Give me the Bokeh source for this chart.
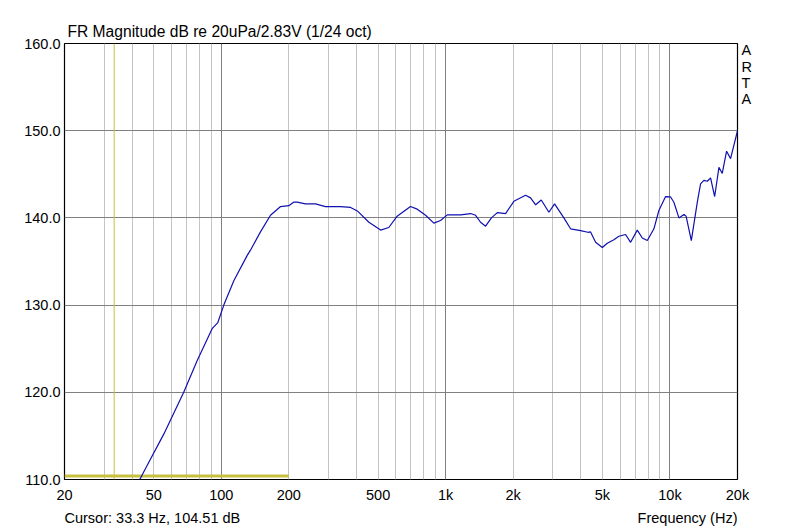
from bokeh.plotting import figure
from bokeh.models import Range1d, FixedTicker, Grid, Span, PrintfTickFormatter, LinearAxis
from bokeh.layouts import column
from bokeh.core.properties import value
from bokeh.embed import file_html
from bokeh.resources import INLINE

# ---- data ----
freq_hz = [40.0, 43.3, 46.7, 55.4, 68.0, 78.1, 91.0, 96.5, 102.6, 113.7, 130.5, 134.9,
           149.5, 165.7, 183.7, 200.0, 210.0, 218.0, 237.0, 263.0, 291.0, 340.0, 377.0,
           404.0, 455.0, 513.0, 558.0, 608.0, 697.0, 747.0, 814.0, 886.0, 949.0, 1017.0,
           1166.0, 1292.0, 1360.0, 1431.0, 1507.0, 1600.0, 1700.0, 1850.0, 2014.0, 2272.0,
           2391.0, 2519.0, 2669.0, 2885.0, 3059.0, 3366.0, 3605.0, 3996.0, 4307.0, 4420.0,
           4662.0, 4993.0, 5255.0, 5623.0, 5918.0, 6340.0, 6676.0, 7151.0, 7528.0, 7925.0,
           8480.0, 8925.0, 9561.0, 10066.0, 10410.0, 10964.0, 11540.0, 11800.0, 12450.0,
           13240.0, 13690.0, 14160.0, 14670.0, 15170.0, 15820.0, 16530.0, 17100.0, 17880.0,
           18630.0, 20000.0]
level_db = [108.3, 110.0, 111.6, 115.2, 120.0, 123.65, 127.3, 128.0, 130.0, 132.8, 135.7, 136.3,
            138.4, 140.3, 141.3, 141.4, 141.8, 141.8, 141.6, 141.6, 141.3, 141.3, 141.2,
            140.8, 139.5, 138.6, 138.9, 140.2, 141.3, 141.0, 140.3, 139.4, 139.7, 140.35,
            140.35, 140.5, 140.3, 139.5, 139.05, 140.0, 140.6, 140.5, 141.9, 142.6,
            142.3, 141.5, 142.05, 140.65, 141.6, 140.0, 138.75, 138.55, 138.35, 138.4,
            137.2, 136.6, 137.1, 137.5, 137.9, 138.1, 137.2, 138.6, 137.7, 137.4,
            138.75, 140.85, 142.45, 142.4, 141.8, 140.0, 140.4, 140.2, 137.4,
            141.8, 143.9, 144.3, 144.2, 144.6, 142.45, 145.8, 145.1, 147.65,
            146.8, 150.0]

x_tick_values = [20, 50, 100, 200, 500, 1000, 2000, 5000, 10000, 20000]
x_tick_labels = ["20", "50", "100", "200", "500", "1k", "2k", "5k", "10k", "20k"]
x_major_grid = [100, 1000, 10000]
x_minor_grid = [30, 40, 50, 60, 70, 80, 90, 200, 300, 400, 500, 600, 700, 800, 900,
                2000, 3000, 4000, 5000, 6000, 7000, 8000, 9000]
y_tick_values = [110, 120, 130, 140, 150, 160]

cursor_freq = 33.3
cursor_band_x = [20, 200]
cursor_band_y = [110.4, 110.4]

title_text = "FR Magnitude dB re 20uPa/2.83V (1/24 oct)"
cursor_text = "Cursor: 33.3 Hz, 104.51 dB"
xlabel_text = "Frequency (Hz)"
brand_letters = ["A", "R", "T", "A"]
brand_positions = [159.2, 157.36, 155.5, 153.6]

FONT = "Liberation Sans"

p = figure(width=800, height=505, x_axis_type="log",
           x_range=Range1d(20, 20000), y_range=Range1d(110, 160),
           output_backend="svg", toolbar_location=None,
           min_border_left=64, min_border_right=63, min_border_top=43, min_border_bottom=26)
p.background_fill_color = "white"
p.border_fill_color = "white"
p.outline_line_color = "black"
p.outline_line_width = 1.2

p.title.text = title_text
p.title.align = "left"
p.title.offset = 3
p.title.standoff = 7
p.title.text_font = FONT
p.title.text_font_size = "15.6px"
p.title.text_font_style = "normal"
p.title.text_color = "black"

p.xgrid.visible = False
p.ygrid.visible = False

p.add_layout(Grid(dimension=0, ticker=FixedTicker(ticks=x_minor_grid),
                  grid_line_color="#c4c4c4", grid_line_width=1))
p.add_layout(Grid(dimension=0, ticker=FixedTicker(ticks=x_major_grid),
                  grid_line_color="#808080", grid_line_width=1))
p.add_layout(Grid(dimension=1, ticker=FixedTicker(ticks=y_tick_values),
                  grid_line_color="#808080", grid_line_width=1))

xa = p.xaxis[0]
xa.ticker = FixedTicker(ticks=x_tick_values, minor_ticks=[])
xa.major_label_overrides = {v: s for v, s in zip(x_tick_values, x_tick_labels)}
xa.axis_line_color = None
xa.major_tick_line_color = None
xa.minor_tick_line_color = None
xa.major_tick_out = 0
xa.major_label_standoff = 7
xa.major_label_text_font = FONT
xa.major_label_text_font_size = "14.5px"
xa.major_label_text_color = "black"

ya = p.yaxis[0]
ya.ticker = FixedTicker(ticks=y_tick_values, minor_ticks=[])
ya.formatter = PrintfTickFormatter(format="%.1f")
ya.axis_line_color = None
ya.major_tick_line_color = None
ya.minor_tick_line_color = None
ya.major_tick_out = 0
ya.major_label_standoff = 4
ya.major_label_text_font = FONT
ya.major_label_text_font_size = "14.5px"
ya.major_label_text_color = "black"

ra = LinearAxis(ticker=FixedTicker(ticks=brand_positions, minor_ticks=[]),
                major_label_overrides={v: s for v, s in zip(brand_positions, brand_letters)},
                axis_line_color=None, major_tick_line_color=None, minor_tick_line_color=None,
                major_tick_out=0, major_label_standoff=4,
                major_label_text_font=FONT, major_label_text_font_size="14.5px",
                major_label_text_color="black")
p.add_layout(ra, "right")

p.add_layout(Span(location=cursor_freq, dimension="height", line_color="#c8c040", line_width=1))
p.line(cursor_band_x, cursor_band_y, line_color="#c8c040", line_width=3)

p.line(freq_hz, level_db, line_color="#1010b0", line_width=1.2)

# footer strip sharing the frequency scale
foot = figure(width=800, height=25, x_axis_type="log", x_range=p.x_range,
              y_range=Range1d(0, 1), output_backend="svg", toolbar_location=None,
              x_axis_location=None, y_axis_location=None,
              min_border_left=64, min_border_right=63, min_border_top=0, min_border_bottom=0)
foot.outline_line_color = None
foot.grid.visible = False
foot.background_fill_color = "white"
foot.border_fill_color = "white"

foot.text(x=[20], y=[0.5], text=[cursor_text], text_font=value(FONT), text_font_size="14.5px",
          text_color="black", text_align="left", text_baseline="middle")
foot.text(x=[20000], y=[0.5], text=[xlabel_text], text_font=value(FONT), text_font_size="14.5px",
          text_color="black", text_align="right", text_baseline="middle")

layout = column(p, foot, spacing=0)
open("out.html", "w").write(file_html(layout, INLINE))
